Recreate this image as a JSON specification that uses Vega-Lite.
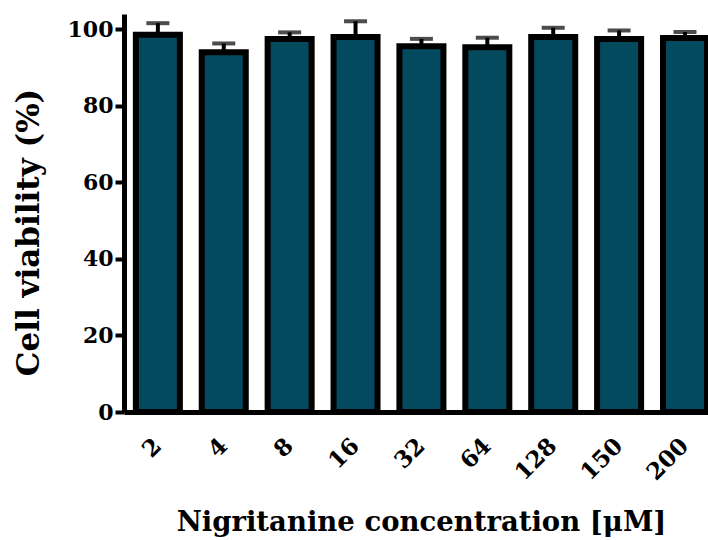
{
  "$schema": "https://vega.github.io/schema/vega-lite/v6.json",
  "autosize": "none",
  "padding": {"left": 124, "top": 14, "right": 1, "bottom": 128},
  "width": 583,
  "height": 398,
  "background": "white",
  "config": {"view": {"stroke": null}},
  "data": {
    "values": [
      {"conc": "2", "mean": 98.6, "upper": 101.6},
      {"conc": "4", "mean": 94.0, "upper": 96.3},
      {"conc": "8", "mean": 97.5, "upper": 99.2},
      {"conc": "16", "mean": 98.0, "upper": 102.1},
      {"conc": "32", "mean": 95.6, "upper": 97.5},
      {"conc": "64", "mean": 95.3, "upper": 97.8},
      {"conc": "128", "mean": 98.0, "upper": 100.4},
      {"conc": "150", "mean": 97.5, "upper": 99.7},
      {"conc": "200", "mean": 97.7, "upper": 99.3}
    ]
  },
  "encoding": {
    "x": {
      "field": "conc",
      "type": "nominal",
      "sort": null,
      "scale": {"paddingInner": 0.332, "paddingOuter": 0.09, "align": 1},
      "axis": {
        "title": "Nigritanine concentration [μM]",
        "titleFont": "DejaVu Serif",
        "titleFontWeight": "bold",
        "titleFontSize": 27.5,
        "titleColor": "black",
        "titleX": 297,
        "titleY": 118,
        "titleBaseline": "alphabetic",
        "titleAlign": "center",
        "labelFont": "DejaVu Serif",
        "labelFontWeight": "bold",
        "labelFontSize": 23,
        "labelColor": "black",
        "labelAngle": -45,
        "labelAlign": "right",
        "labelBaseline": "middle",
        "labelPadding": 30,
        "ticks": false,
        "domainColor": "black",
        "domainWidth": 5,
        "grid": false
      }
    }
  },
  "layer": [
    {
      "mark": {"type": "bar", "fill": "#034a5e", "stroke": "black", "strokeWidth": 6},
      "encoding": {
        "y": {
          "field": "mean",
          "type": "quantitative",
          "scale": {"domain": [0, 104], "nice": false},
          "axis": {
            "title": "Cell viability (%)",
            "titleFont": "DejaVu Serif",
            "titleFontWeight": "bold",
            "titleFontSize": 31,
            "titleColor": "black",
            "titleAngle": -90,
            "titleX": -95,
            "titleY": 218,
            "titleBaseline": "middle",
            "titleAlign": "center",
            "values": [0, 20, 40, 60, 80, 100],
            "labelFont": "DejaVu Serif",
            "labelFontWeight": "bold",
            "labelFontSize": 22,
            "labelColor": "black",
            "labelPadding": 2,
            "tickSize": 9,
            "tickWidth": 4,
            "tickColor": "black",
            "domainColor": "black",
            "domainWidth": 5,
            "grid": false
          }
        }
      }
    },
    {
      "mark": {"type": "rule", "color": "black", "strokeWidth": 4},
      "encoding": {
        "y": {"field": "mean", "type": "quantitative"},
        "y2": {"field": "upper"}
      }
    },
    {
      "mark": {"type": "tick", "color": "black", "thickness": 4, "size": 23, "orient": "horizontal"},
      "encoding": {
        "y": {"field": "upper", "type": "quantitative"}
      }
    }
  ]
}
